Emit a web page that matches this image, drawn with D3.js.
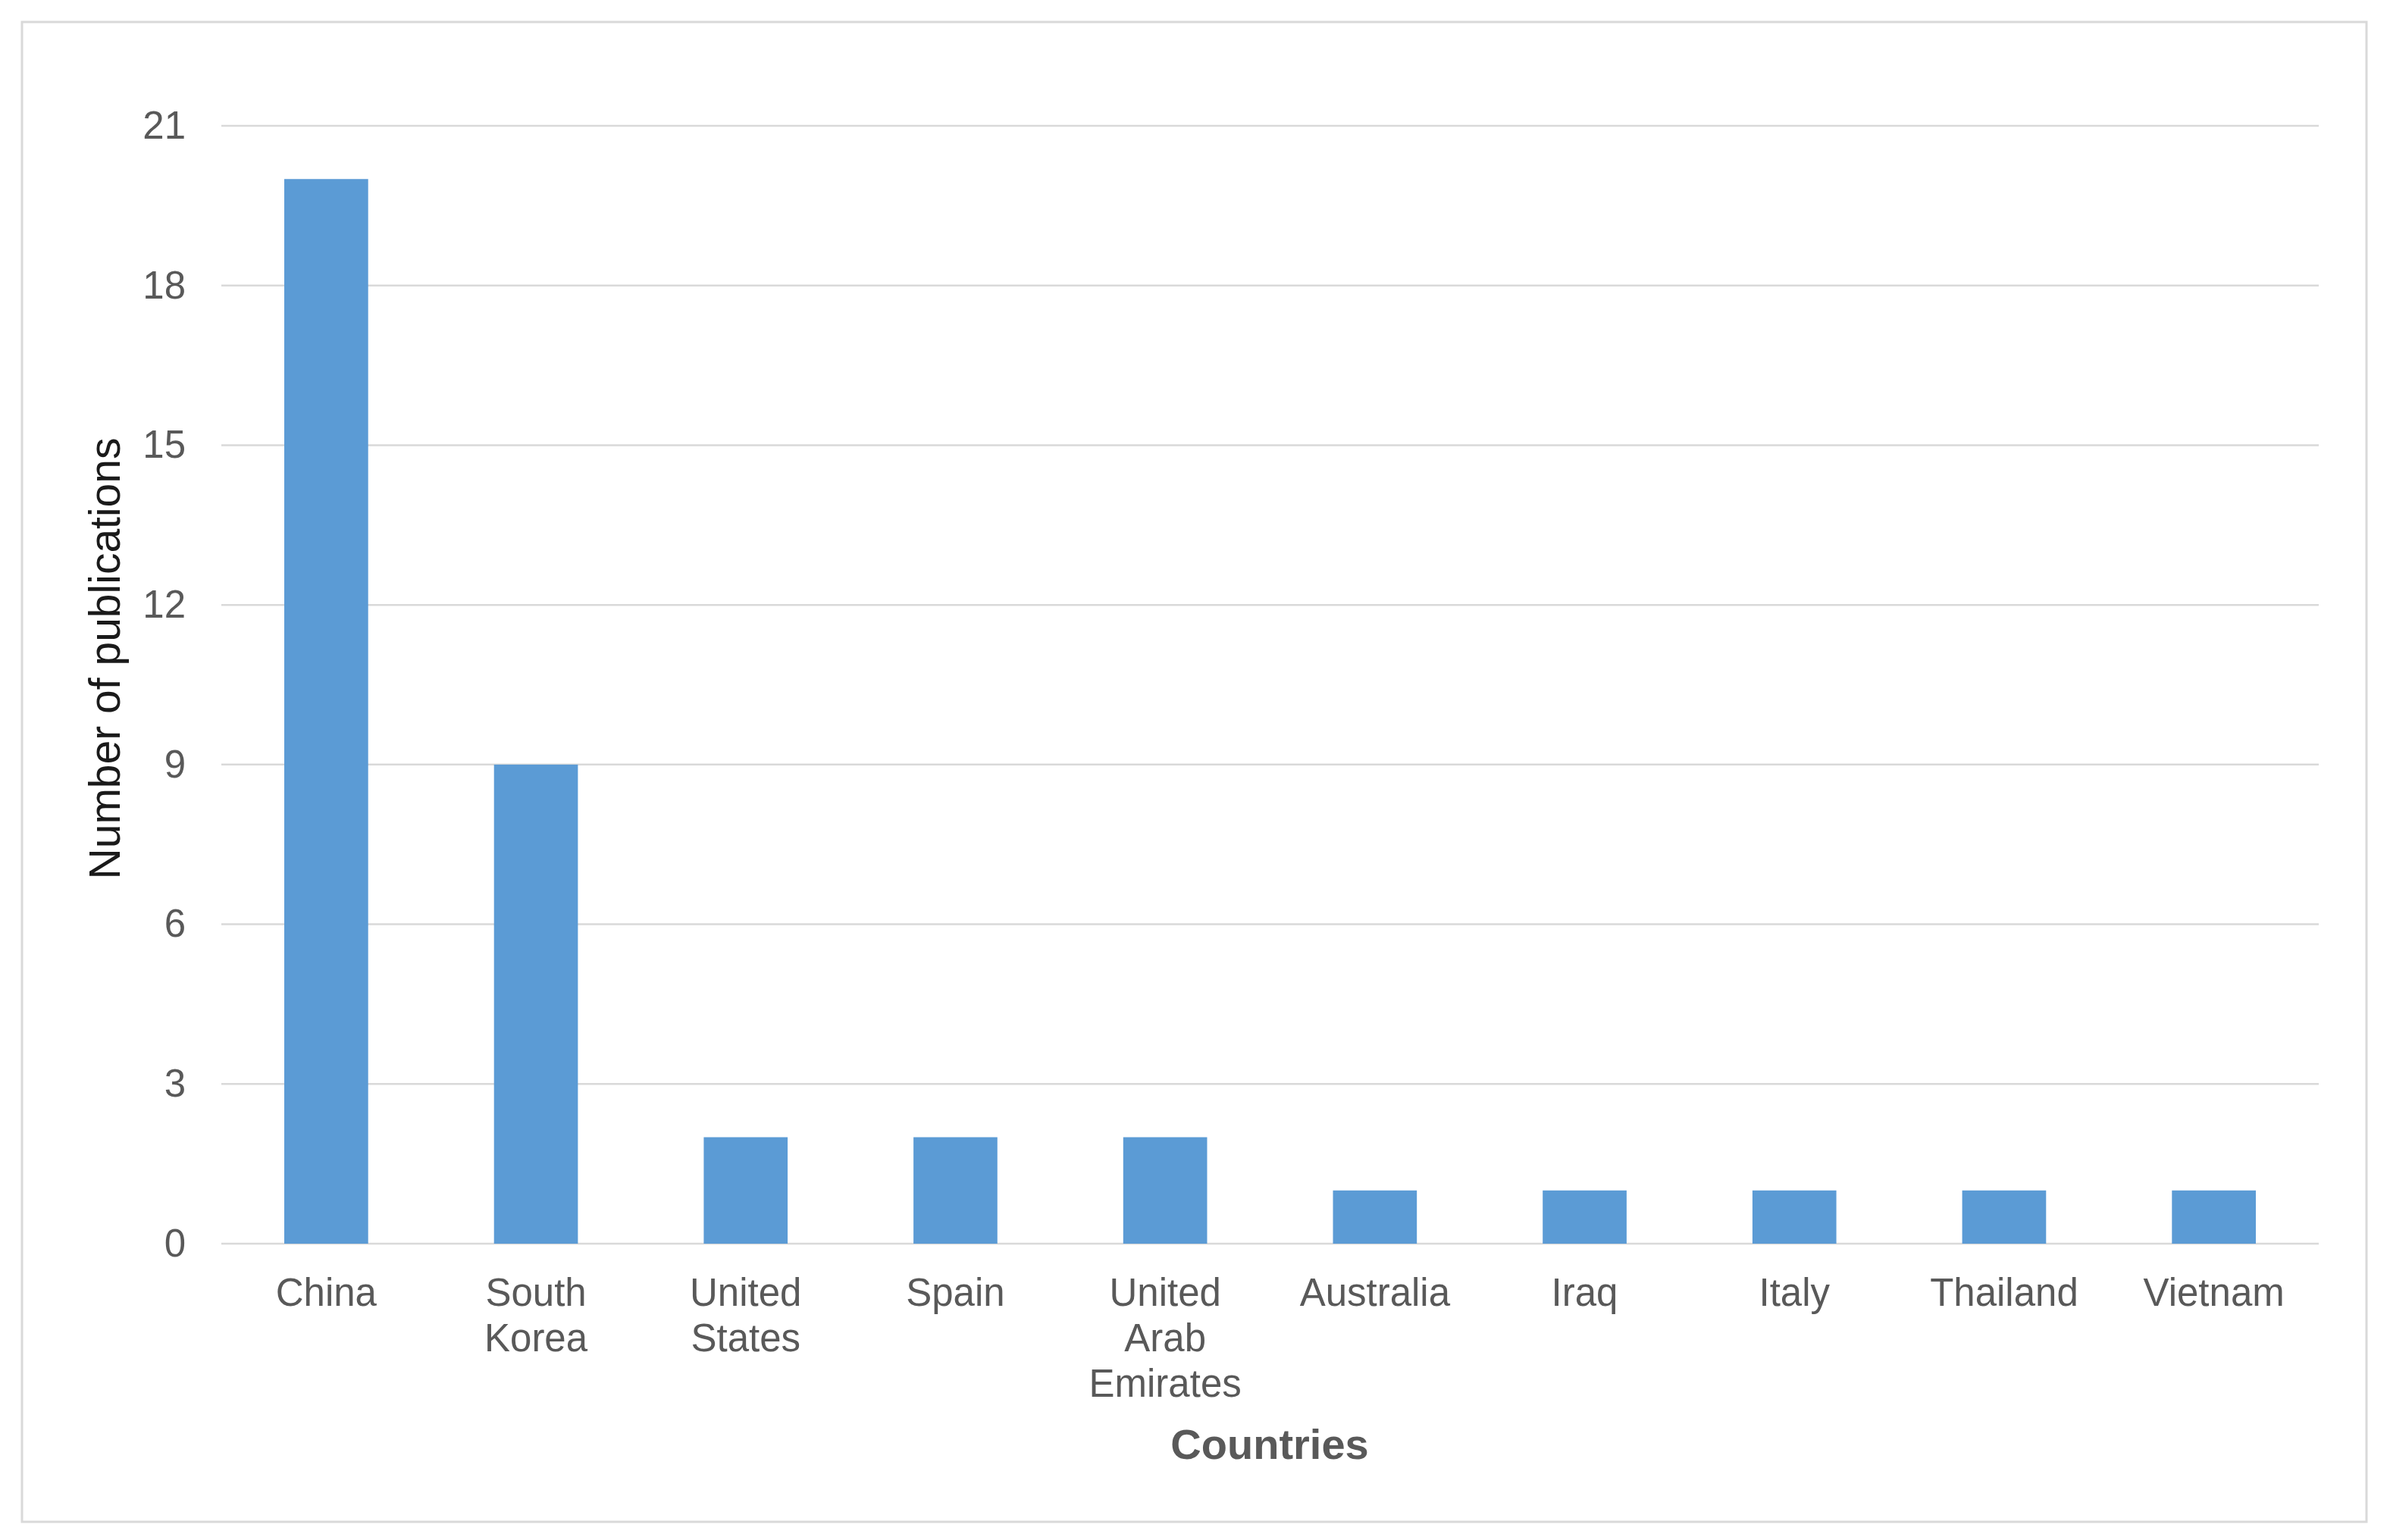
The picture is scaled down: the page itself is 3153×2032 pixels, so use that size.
<!DOCTYPE html>
<html lang="en">
<meta charset="utf-8">

<!-- Load d3.js -->
<script src="https://d3js.org/d3.v7.min.js"></script>

<style>
  body { margin: 0; background: #ffffff; }
  text { font-family: "Liberation Sans", Arial, sans-serif; }
</style>

<!-- Create a div where the graph will take place -->
<div id="my_dataviz"></div>

<script>

    // data
    var countries = ["China", "South Korea", "United States", "Spain", "United Arab Emirates",
                     "Australia", "Iraq", "Italy", "Thailand", "Vietnam"];
    var publications = [20, 9, 2, 2, 2, 1, 1, 1, 1, 1];
    var yTicks = [0, 3, 6, 9, 12, 15, 18, 21];

    // label lines as they wrap under the bars
    var labelLines = {
      "South Korea": ["South", "Korea"],
      "United States": ["United", "States"],
      "United Arab Emirates": ["United", "Arab", "Emirates"]
    };

    var data = countries.map(function(c, i) { return {country: c, value: publications[i]}; });

    var W = 3153, H = 2032;
    var margin = {top: 166, right: 94, bottom: 391, left: 292},
      width = W - margin.left - margin.right,
      height = H - margin.top - margin.bottom;

    var root = d3.select("#my_dataviz")
      .append("svg")
        .attr("width", W)
        .attr("height", H);

    // outer frame
    root.append("rect")
      .attr("x", 29)
      .attr("y", 29)
      .attr("width", 3093)
      .attr("height", 1979)
      .attr("fill", "#ffffff")
      .attr("stroke", "#d9d9d9")
      .attr("stroke-width", 3);

    var svg = root.append("g")
      .attr("transform", "translate(" + margin.left + "," + margin.top + ")");

    // X scale
    var x = d3.scaleBand()
      .range([0, width])
      .domain(countries)
      .paddingInner(0.6)
      .paddingOuter(0.3);

    // Y scale
    var y = d3.scaleLinear()
      .domain([0, 21])
      .range([height, 0]);

    // gridlines
    svg.append("g")
      .selectAll("line")
      .data(yTicks)
      .enter()
      .append("line")
        .attr("x1", 0)
        .attr("x2", width)
        .attr("y1", function(d) { return y(d); })
        .attr("y2", function(d) { return y(d); })
        .attr("stroke", "#d9d9d9")
        .attr("stroke-width", 2.5);

    // Y axis labels
    var yAxis = svg.append("g")
      .call(d3.axisLeft(y).tickValues(yTicks).tickSize(0).tickPadding(47));
    yAxis.select(".domain").remove();
    yAxis.selectAll("text")
      .style("font-family", "'Liberation Sans', Arial, sans-serif")
      .style("font-size", "51px")
      .style("fill", "#595959");

    // bars
    svg.selectAll(".bar")
      .data(data)
      .enter()
      .append("rect")
        .attr("class", "bar")
        .attr("x", function(d) { return x(d.country); })
        .attr("y", function(d) { return y(d.value); })
        .attr("width", x.bandwidth())
        .attr("height", function(d) { return height - y(d.value); })
        .attr("fill", "#5b9bd5");

    // X labels, wrapped
    var xl = svg.append("g")
      .selectAll("text")
      .data(countries)
      .enter()
      .append("text")
        .attr("x", function(d) { return x(d) + x.bandwidth() / 2; })
        .attr("y", height + 82)
        .attr("text-anchor", "middle")
        .style("font-size", "51px")
        .style("fill", "#595959");

    xl.each(function(d) {
      var lines = labelLines[d] || [d];
      var t = d3.select(this);
      lines.forEach(function(l, i) {
        t.append("tspan")
          .attr("x", x(d) + x.bandwidth() / 2)
          .attr("dy", i === 0 ? 0 : 60)
          .text(l);
      });
    });

    // X axis title
    root.append("text")
      .attr("x", 1675)
      .attr("y", 1925)
      .attr("text-anchor", "middle")
      .style("font-size", "56px")
      .style("font-weight", "bold")
      .style("fill", "#595959")
      .text("Countries");

    // Y axis title
    root.append("text")
      .attr("transform", "translate(158,869) rotate(-90)")
      .attr("text-anchor", "middle")
      .style("font-size", "57px")
      .style("fill", "#1a1a1a")
      .text("Number of publications");

</script>
</html>
